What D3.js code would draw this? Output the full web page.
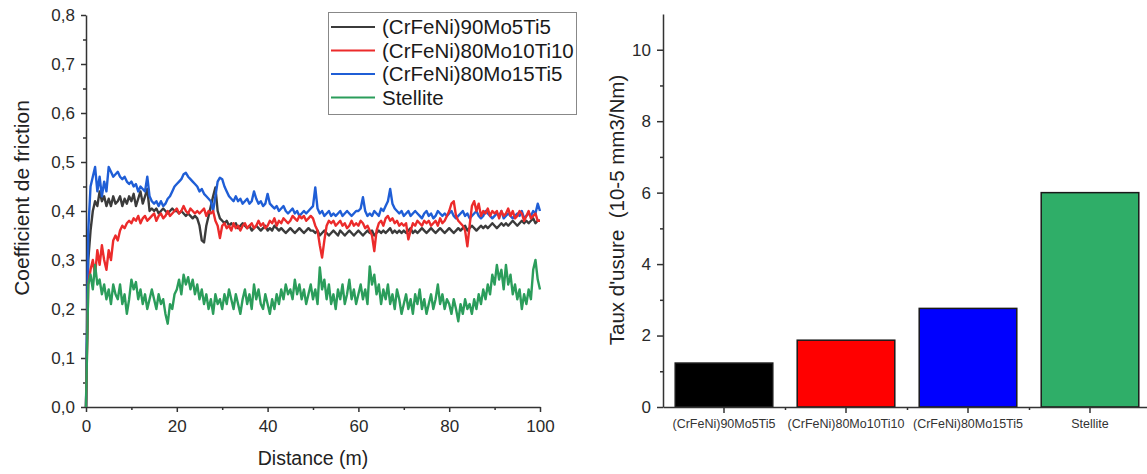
<!DOCTYPE html>
<html>
<head>
<meta charset="utf-8">
<script src="https://cdn.jsdelivr.net/npm/d3@7"></script>
<style>
  html, body { margin: 0; padding: 0; background: #fff; }
  svg { display: block; font-family: "Liberation Sans", Arial, sans-serif; }
</style>
</head>
<body>
<svg id="chart" width="1147" height="474"></svg>
<script>
// ---------- DATA ----------
const seriesNames = ["(CrFeNi)90Mo5Ti5", "(CrFeNi)80Mo10Ti10", "(CrFeNi)80Mo15Ti5", "Stellite"];
const distance = d3.range(0, 100.001, 0.5); // sampling grid, metres

const cofMo5Ti5 = [
0, 0.30, 0.36, 0.40, 0.42, 0.41, 0.44, 0.42, 0.43, 0.41,
0.425, 0.41, 0.43, 0.415, 0.42, 0.43, 0.41, 0.425, 0.415, 0.43,
0.42, 0.435, 0.41, 0.425, 0.44, 0.415, 0.43, 0.445, 0.40, 0.405,
0.40, 0.405, 0.395, 0.40, 0.405, 0.40, 0.395, 0.40, 0.405, 0.40,
0.40, 0.395, 0.40, 0.395, 0.39, 0.395, 0.39, 0.385, 0.39, 0.385,
0.37, 0.34, 0.336, 0.37, 0.39, 0.41, 0.43, 0.448, 0.40, 0.385,
0.38, 0.375, 0.38, 0.37, 0.375, 0.37, 0.375, 0.365, 0.37, 0.375,
0.37, 0.365, 0.37, 0.36, 0.365, 0.37, 0.365, 0.36, 0.365, 0.37,
0.36, 0.365, 0.36, 0.37, 0.365, 0.36, 0.365, 0.36, 0.355, 0.36,
0.365, 0.36, 0.355, 0.36, 0.365, 0.36, 0.355, 0.36, 0.365, 0.36,
0.36, 0.355, 0.36, 0.35, 0.355, 0.36, 0.355, 0.35, 0.355, 0.36,
0.355, 0.35, 0.36, 0.355, 0.35, 0.355, 0.36, 0.355, 0.35, 0.355,
0.36, 0.355, 0.35, 0.355, 0.36, 0.355, 0.36, 0.35, 0.355, 0.36,
0.355, 0.36, 0.355, 0.36, 0.365, 0.355, 0.36, 0.355, 0.36, 0.355,
0.36, 0.355, 0.36, 0.365, 0.355, 0.36, 0.355, 0.36, 0.365, 0.36,
0.355, 0.36, 0.365, 0.36, 0.355, 0.36, 0.365, 0.36, 0.355, 0.36,
0.365, 0.36, 0.355, 0.36, 0.365, 0.36, 0.365, 0.37, 0.36, 0.365,
0.37, 0.365, 0.36, 0.365, 0.37, 0.365, 0.37, 0.365, 0.37, 0.375,
0.37, 0.365, 0.37, 0.375, 0.37, 0.375, 0.37, 0.375, 0.38, 0.375,
0.37, 0.375, 0.38, 0.375, 0.38, 0.375, 0.38, 0.385, 0.375, 0.38,
0.38];

const cofMo10Ti10 = [
0, 0.25, 0.28, 0.30, 0.27, 0.32, 0.29, 0.33, 0.30, 0.28,
0.32, 0.30, 0.34, 0.35, 0.34, 0.36, 0.37, 0.365, 0.375, 0.38,
0.375, 0.385, 0.38, 0.39, 0.375, 0.385, 0.39, 0.38, 0.385, 0.39,
0.395, 0.38, 0.39, 0.395, 0.385, 0.39, 0.40, 0.39, 0.395, 0.40,
0.405, 0.395, 0.40, 0.41, 0.40, 0.395, 0.405, 0.40, 0.395, 0.40,
0.395, 0.40, 0.405, 0.39, 0.40, 0.395, 0.40, 0.38, 0.37, 0.345,
0.37, 0.375, 0.365, 0.37, 0.36, 0.375, 0.365, 0.37, 0.36, 0.37,
0.375, 0.365, 0.37, 0.375, 0.365, 0.37, 0.38, 0.37, 0.375, 0.365,
0.37, 0.38, 0.375, 0.385, 0.37, 0.38, 0.375, 0.385, 0.38, 0.375,
0.38, 0.39, 0.385, 0.38, 0.39, 0.385, 0.39, 0.38, 0.385, 0.39,
0.385, 0.37, 0.36, 0.33, 0.305, 0.34, 0.37, 0.38, 0.375, 0.38,
0.37, 0.375, 0.38, 0.37, 0.375, 0.365, 0.37, 0.38, 0.37, 0.375,
0.37, 0.38, 0.375, 0.365, 0.37, 0.36, 0.35, 0.318, 0.36, 0.375,
0.38, 0.37, 0.385, 0.39, 0.38, 0.385, 0.375, 0.38, 0.37, 0.375,
0.37, 0.375, 0.342, 0.36, 0.375, 0.37, 0.38, 0.375, 0.37, 0.38,
0.375, 0.38, 0.37, 0.375, 0.38, 0.37, 0.385, 0.375, 0.38, 0.39,
0.40, 0.415, 0.42, 0.39, 0.38, 0.375, 0.37, 0.36, 0.328, 0.37,
0.41, 0.42, 0.40, 0.415, 0.39, 0.40, 0.395, 0.405, 0.39, 0.40,
0.395, 0.40, 0.385, 0.40, 0.39, 0.395, 0.405, 0.39, 0.40, 0.385,
0.39, 0.40, 0.395, 0.38, 0.39, 0.40, 0.385, 0.39, 0.395, 0.38,
0.38];

const cofMo15Ti5 = [
0, 0.36, 0.45, 0.47, 0.49, 0.44, 0.47, 0.43, 0.46, 0.44,
0.49, 0.48, 0.47, 0.475, 0.48, 0.47, 0.465, 0.47, 0.46, 0.455,
0.46, 0.45, 0.455, 0.44, 0.45, 0.445, 0.44, 0.47, 0.43, 0.42,
0.415, 0.42, 0.41, 0.42, 0.41, 0.415, 0.425, 0.43, 0.44, 0.45,
0.455, 0.46, 0.465, 0.475, 0.478, 0.47, 0.465, 0.46, 0.455, 0.45,
0.44, 0.445, 0.435, 0.43, 0.425, 0.42, 0.40, 0.43, 0.46, 0.468,
0.465, 0.45, 0.44, 0.43, 0.425, 0.42, 0.43, 0.42, 0.425, 0.415,
0.42, 0.425, 0.415, 0.42, 0.44, 0.425, 0.415, 0.42, 0.41, 0.415,
0.435, 0.415, 0.41, 0.405, 0.41, 0.40, 0.405, 0.41, 0.40, 0.395,
0.40, 0.405, 0.395, 0.40, 0.39, 0.395, 0.40, 0.395, 0.40, 0.405,
0.41, 0.448, 0.405, 0.395, 0.40, 0.39, 0.395, 0.40, 0.39, 0.395,
0.39, 0.395, 0.40, 0.39, 0.395, 0.40, 0.395, 0.39, 0.395, 0.40,
0.40, 0.405, 0.428, 0.40, 0.39, 0.395, 0.39, 0.40, 0.395, 0.39,
0.405, 0.40, 0.41, 0.42, 0.445, 0.415, 0.405, 0.40, 0.395, 0.40,
0.39, 0.395, 0.40, 0.39, 0.395, 0.40, 0.395, 0.39, 0.385, 0.395,
0.40, 0.39, 0.395, 0.385, 0.39, 0.40, 0.395, 0.39, 0.395, 0.39,
0.395, 0.40, 0.39, 0.385, 0.39, 0.395, 0.40, 0.39, 0.395, 0.385,
0.39, 0.395, 0.40, 0.39, 0.385, 0.39, 0.40, 0.395, 0.39, 0.385,
0.39, 0.395, 0.39, 0.40, 0.385, 0.39, 0.395, 0.39, 0.385, 0.39,
0.395, 0.39, 0.40, 0.385, 0.39, 0.395, 0.39, 0.40, 0.395, 0.415,
0.40];

const cofStellite = [
0, 0.25, 0.27, 0.24, 0.29, 0.25, 0.26, 0.23, 0.25, 0.22,
0.24, 0.21, 0.25, 0.23, 0.22, 0.25, 0.21, 0.23, 0.19, 0.22,
0.26, 0.24, 0.255, 0.22, 0.24, 0.21, 0.23, 0.20, 0.22, 0.24,
0.22, 0.20, 0.23, 0.21, 0.22, 0.19, 0.17, 0.21, 0.20, 0.23,
0.24, 0.26, 0.23, 0.27, 0.25, 0.265, 0.24, 0.26, 0.23, 0.25,
0.22, 0.24, 0.21, 0.23, 0.20, 0.22, 0.19, 0.23, 0.21, 0.22,
0.20, 0.23, 0.21, 0.24, 0.22, 0.20, 0.23, 0.21, 0.19, 0.22,
0.24, 0.21, 0.23, 0.20, 0.25, 0.22, 0.24, 0.21, 0.20, 0.23,
0.21, 0.19, 0.22, 0.20, 0.23, 0.21, 0.24, 0.22, 0.25, 0.23,
0.24, 0.22, 0.26, 0.23, 0.25, 0.22, 0.24, 0.21, 0.23, 0.25,
0.22, 0.24, 0.21, 0.285, 0.24, 0.26, 0.22, 0.25, 0.21, 0.23,
0.20, 0.24, 0.22, 0.25, 0.21, 0.23, 0.26, 0.22, 0.24, 0.21,
0.23, 0.25, 0.22, 0.24, 0.21, 0.287, 0.25, 0.27, 0.23, 0.25,
0.21, 0.24, 0.22, 0.25, 0.21, 0.23, 0.20, 0.24, 0.22, 0.19,
0.21, 0.23, 0.20, 0.22, 0.19, 0.23, 0.21, 0.24, 0.20, 0.22,
0.19, 0.21, 0.23, 0.20, 0.22, 0.25, 0.21, 0.23, 0.20, 0.22,
0.21, 0.19, 0.22, 0.20, 0.175, 0.21, 0.19, 0.22, 0.20, 0.21,
0.19, 0.22, 0.20, 0.23, 0.21, 0.24, 0.22, 0.25, 0.23, 0.27,
0.25, 0.29, 0.26, 0.28, 0.24, 0.29, 0.25, 0.27, 0.23, 0.25,
0.22, 0.24, 0.20, 0.23, 0.21, 0.24, 0.22, 0.28, 0.30, 0.26,
0.24];

const wearRate = [1.23, 1.87, 2.76, 6.0];

const xTicksLeft = [0, 20, 40, 60, 80, 100];
const xMinorLeft = [10, 30, 50, 70, 90];
const yTicksLeft = [0, 0.1, 0.2, 0.3, 0.4, 0.5, 0.6, 0.7, 0.8];
const yMinorLeft = [0.05, 0.15, 0.25, 0.35, 0.45, 0.55, 0.65, 0.75];
const yTicksRight = [0, 2, 4, 6, 8, 10];
const yMinorRight = [1, 3, 5, 7, 9];

const lineColors = ["#3b3b3b", "#ec2b2b", "#1f5ed6", "#2b9d5b"];
const barColors = ["#000000", "#ff0000", "#0000ff", "#2fae68"];

// ---------- DRAW ----------
const svg = d3.select("#chart");
svg.append("rect").attr("width", 1147).attr("height", 474).attr("fill", "#fff");

const axisColor = "#333";
function styleAxis(g, fs) {
  g.select(".domain").attr("stroke", axisColor).attr("stroke-width", 1.5);
  g.selectAll(".tick line").attr("stroke", axisColor).attr("stroke-width", 1.5);
  g.selectAll(".tick text").attr("fill", "#2a2a2a").style("font-size", fs + "px")
    .style("font-family", '"Liberation Sans", Arial, sans-serif');
}

// ---- Left chart ----
const xL = d3.scaleLinear().domain([0, 100]).range([86, 540]);
const yL = d3.scaleLinear().domain([0, 0.8]).range([407, 15]);
const commaFmt = d => d.toFixed(1).replace(".", ",");

svg.append("g").attr("transform", "translate(0,407)")
  .call(d3.axisBottom(xL).tickValues(xMinorLeft).tickSize(3).tickFormat(""))
  .call(g => { styleAxis(g, 16); g.select(".domain").remove(); });
svg.append("g").attr("transform", "translate(0,407)")
  .call(d3.axisBottom(xL).tickValues(xTicksLeft).tickSize(5).tickSizeOuter(0).tickPadding(8).tickFormat(d3.format("d")))
  .call(g => styleAxis(g, 17));

svg.append("g").attr("transform", "translate(86,0)")
  .call(d3.axisLeft(yL).tickValues(yMinorLeft).tickSize(3).tickFormat(""))
  .call(g => { styleAxis(g, 16); g.select(".domain").remove(); });
svg.append("g").attr("transform", "translate(86,0)")
  .call(d3.axisLeft(yL).tickValues(yTicksLeft).tickSize(5).tickSizeOuter(0).tickPadding(6).tickFormat(commaFmt))
  .call(g => styleAxis(g, 17));

const seriesData = [cofMo5Ti5, cofMo15Ti5, cofMo10Ti10, cofStellite];
const seriesColorIdx = [0, 2, 1, 3];
const line = d3.line().x((d, i) => xL(distance[i])).y(d => yL(d));
seriesData.forEach((s, k) => {
  svg.append("path").datum(s).attr("d", line)
    .attr("fill", "none").attr("stroke", lineColors[seriesColorIdx[k]])
    .attr("stroke-width", 2.4).attr("stroke-linejoin", "round");
});

svg.append("text").attr("transform", "translate(29,198) rotate(-90)")
  .attr("text-anchor", "middle").style("font-size", "21px").attr("fill", "#222")
  .text("Coefficient de friction");
svg.append("text").attr("x", 313).attr("y", 465)
  .attr("text-anchor", "middle").style("font-size", "19.5px").attr("fill", "#222")
  .text("Distance (m)");

// Legend
const leg = svg.append("g");
leg.append("rect").attr("x", 328.5).attr("y", 12.5).attr("width", 248).attr("height", 102)
  .attr("fill", "#fff").attr("stroke", "#888").attr("stroke-width", 1);
seriesNames.forEach((n, i) => {
  const yy = 27 + i * 23.5;
  leg.append("line").attr("x1", 331).attr("x2", 375).attr("y1", yy).attr("y2", yy)
    .attr("stroke", lineColors[i]).attr("stroke-width", 2);
  leg.append("text").attr("x", 382).attr("y", yy + 7).style("font-size", "20.5px")
    .attr("fill", "#1a1a1a").text(n);
});

// ---- Right chart ----
const xR = d3.scaleBand().domain(seriesNames).range([663, 1151]).paddingInner(0.2).paddingOuter(0.1);
const yR = d3.scaleLinear().domain([0, 11]).range([407, 14]);

svg.selectAll(".bar").data(wearRate).enter().append("rect")
  .attr("x", (d, i) => xR(seriesNames[i]))
  .attr("y", d => yR(d))
  .attr("width", xR.bandwidth())
  .attr("height", d => yR(0) - yR(d))
  .attr("fill", (d, i) => barColors[i])
  .attr("stroke", "#1a1a1a").attr("stroke-width", 1.5);

const boundaries = seriesNames.slice(0, 3).map(n => xR(n) + xR.bandwidth() / 2 + xR.step() / 2);
svg.append("g").attr("transform", "translate(0,407)")
  .call(d3.axisBottom(d3.scaleLinear().domain([0, 2000]).range([0, 2000])).tickValues(boundaries).tickSize(3).tickFormat(""))
  .call(g => { styleAxis(g, 12); g.select(".domain").remove(); });
svg.append("g").attr("transform", "translate(0,407)")
  .call(d3.axisBottom(xR).tickSize(6).tickSizeOuter(0).tickPadding(6))
  .call(g => { styleAxis(g, 12.5); g.selectAll(".tick text").attr("fill", "#333"); });

svg.append("g").attr("transform", "translate(663,0)")
  .call(d3.axisLeft(yR).tickValues(yMinorRight).tickSize(3).tickFormat(""))
  .call(g => { styleAxis(g, 16); g.select(".domain").remove(); });
svg.append("g").attr("transform", "translate(663,0)")
  .call(d3.axisLeft(yR).tickValues(yTicksRight).tickSize(6).tickSizeOuter(0).tickPadding(6).tickFormat(d3.format("d")))
  .call(g => styleAxis(g, 17));

svg.append("text").attr("transform", "translate(624,210) rotate(-90)")
  .attr("text-anchor", "middle").style("font-size", "20.5px").style("white-space", "pre")
  .attr("fill", "#222").text("Taux d'usure  (10-5 mm3/Nm)");
</script>
</body>
</html>
